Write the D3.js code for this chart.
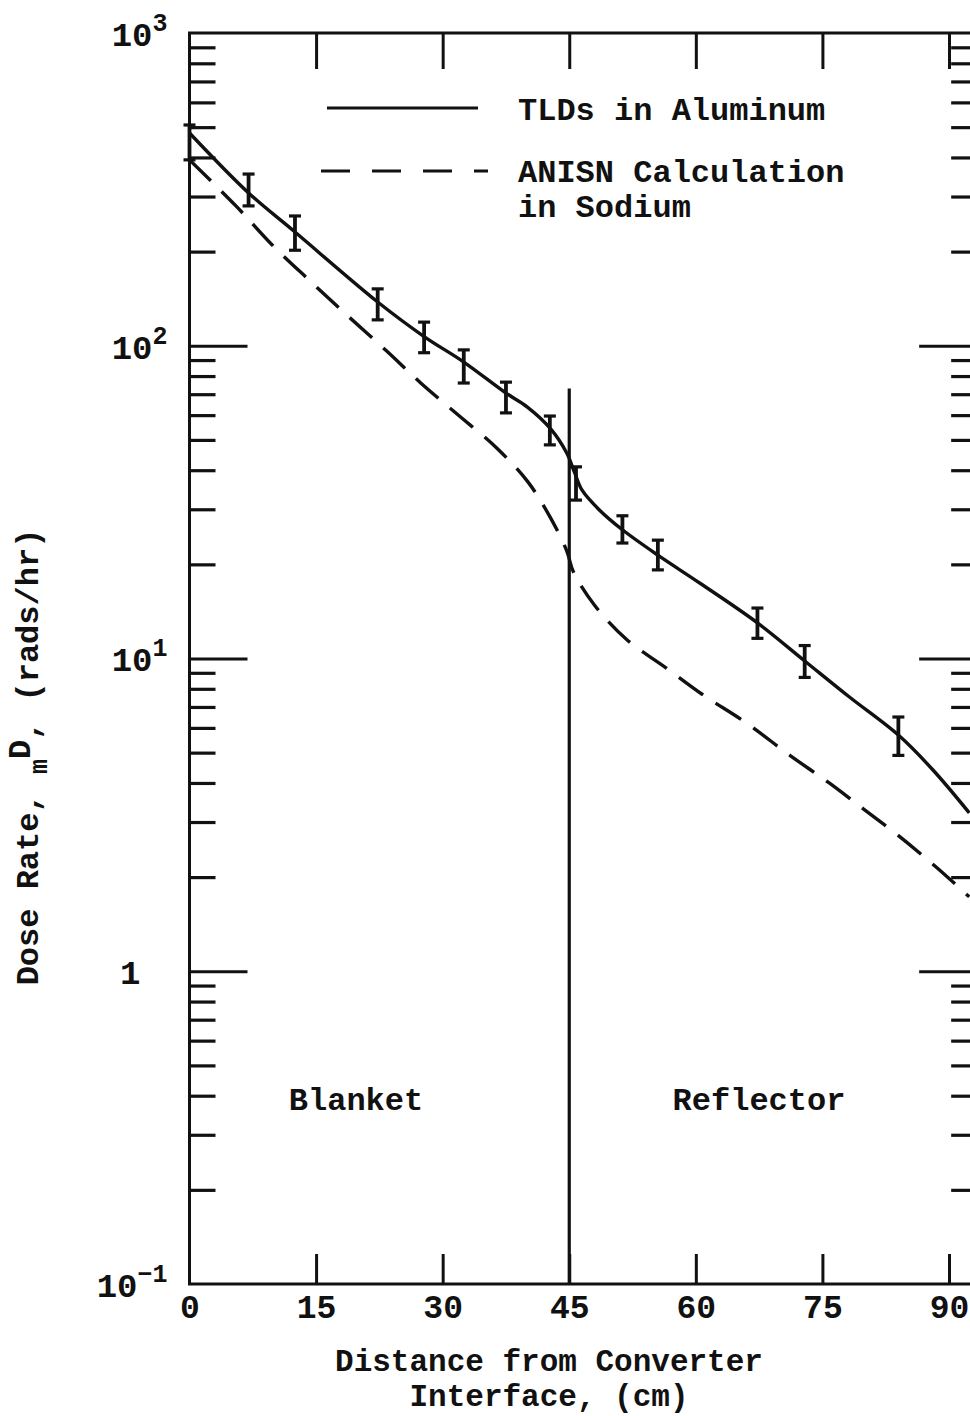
<!DOCTYPE html>
<html>
<head>
<meta charset="utf-8">
<script src="https://cdn.jsdelivr.net/npm/d3@7"></script>
<style>
  html, body { margin: 0; padding: 0; background: #fff; }
  svg { display: block; }
  text { font-family: "Liberation Mono", "DejaVu Sans Mono", monospace; font-weight: bold; fill: #111; }
</style>
</head>
<body>
<svg id="chart" width="970" height="1416"></svg>
<script>
// Measured TLD dose rate in aluminum (rads/hr) with error bar limits
const tldX    = [0.0, 7.0, 12.5, 22.3, 27.8, 32.5, 37.5, 42.7, 45.8, 51.3, 55.5, 67.3, 72.9, 84.0];
const tldVal  = [450, 315, 231, 138, 107, 87, 68.6, 53.8, 36.4, 25.8, 21.4, 13.0, 9.8, 5.7];
const tldLow  = [393, 280, 202, 121, 95, 76, 61, 48.2, 32.1, 23.4, 19.2, 11.6, 8.7, 4.9];
const tldHigh = [508, 354, 260, 152, 119, 97, 76.5, 59.6, 41, 28.6, 23.9, 14.5, 11.0, 6.5];

// Smooth curve drawn through the TLD measurements
const tldCurveX = [0, 7.0, 12.5, 22.3, 27.8, 32.5, 37.5, 40.0, 42.7, 44.7, 45.65, 46.5, 48.6, 51.3, 55.5, 60.5, 67.3, 72.9, 78.2, 84.0, 88.1, 92.4];
const tldCurveY = [479, 308, 231, 138, 107, 88.7, 70.6, 63.8, 54.6, 45.4, 39.2, 34.6, 29.8, 25.8, 21.4, 17.4, 13.0, 9.82, 7.53, 5.69, 4.40, 3.21];

// ANISN calculation in sodium
const anisnX = [0, 5.5, 9.8, 14.3, 18.7, 23.4, 27.4, 31.7, 36.4, 40.1, 42.8, 44.7, 45.5, 48.0, 51.8, 56.5, 60.7, 66.0, 71.1, 75.8, 80.0, 83.9, 88.5, 92.4];
const anisnY = [393, 280, 210, 161, 125, 96, 76, 60.5, 47.1, 36.7, 28.1, 22.1, 18.9, 14.8, 11.5, 9.32, 7.70, 6.22, 4.91, 4.00, 3.28, 2.73, 2.15, 1.73];

// Axis ticks
const xTicks = [0, 15, 30, 45, 60, 75, 90];
const yMajor = [0.1, 1, 10, 100, 1000];
const yMinor = [];
[0.1, 1, 10, 100].forEach(d => { for (let k = 2; k <= 9; k++) yMinor.push(d * k); });

// Blanket / reflector interface
const interfaceX = 45;
const interfaceTop = 73;
const xMax = 93.1;

const svg = d3.select("#chart");
const mLeft = 189.5, mRight = 949, mTop = 33, mBottom = 1284;

const x = d3.scaleLinear().domain([0, 90]).range([mLeft, mRight]);
const y = d3.scaleLog().domain([0.1, 1000]).range([mBottom, mTop]);
const xEdge = x(xMax);

const ink = "#111";
const fs = "32px";

// frame
svg.append("rect")
  .attr("x", mLeft).attr("y", mTop)
  .attr("width", xEdge - mLeft).attr("height", mBottom - mTop)
  .attr("fill", "none").attr("stroke", ink).attr("stroke-width", 3);

function styleAxis(g, w) {
  g.select(".domain").remove();
  g.selectAll(".tick line").attr("stroke", ink).attr("stroke-width", w);
}

// left axis: minor and major ticks pointing inward
svg.append("g").attr("transform", `translate(${mLeft},0)`)
  .call(d3.axisLeft(y).tickValues(yMinor).tickSize(-26).tickFormat(""))
  .call(g => styleAxis(g, 3.2));
svg.append("g").attr("transform", `translate(${mLeft},0)`)
  .call(d3.axisLeft(y).tickValues([1, 10, 100]).tickSize(-58).tickFormat(""))
  .call(g => styleAxis(g, 3.2));

// right axis
svg.append("g").attr("transform", `translate(${xEdge},0)`)
  .call(d3.axisRight(y).tickValues(yMinor).tickSize(-24).tickFormat(""))
  .call(g => styleAxis(g, 3.2));
svg.append("g").attr("transform", `translate(${xEdge},0)`)
  .call(d3.axisRight(y).tickValues([1, 10, 100]).tickSize(-56).tickFormat(""))
  .call(g => styleAxis(g, 3.2));

// y tick labels as powers of ten
const yLab = svg.append("g").attr("transform", `translate(${mLeft},0)`)
  .call(d3.axisLeft(y).tickValues(yMajor).tickSize(0).tickFormat(""));
yLab.select(".domain").remove();
yLab.selectAll(".tick text").each(function(d) {
  const t = d3.select(this)
    .attr("x", d === 1 ? -49 : -22)
    .attr("dy", "0.36em")
    .attr("text-anchor", "end")
    .style("font-size", "34px")
    .attr("fill", ink);
  const e = Math.round(Math.log10(d));
  if (e === 0) {
    t.append("tspan").text("1");
  } else {
    t.append("tspan").text("10");
    t.append("tspan").attr("dy", -15).style("font-size", "25px").text(String(e).replace("-", "\u2212"));
  }
});

// top axis ticks
svg.append("g").attr("transform", `translate(0,${mTop})`)
  .call(d3.axisTop(x).tickValues([15, 30, 45, 60, 75, 90]).tickSize(-36).tickFormat(""))
  .call(g => styleAxis(g, 3));

// bottom axis ticks and labels
const xAx = svg.append("g").attr("transform", `translate(0,${mBottom})`)
  .call(d3.axisBottom(x).tickValues(xTicks).tickSize(-30).tickPadding(11).tickFormat(d3.format("d")));
styleAxis(xAx, 3);
xAx.selectAll(".tick").filter(d => d === 0).select("line").remove();
xAx.selectAll(".tick text").style("font-size", "33px").attr("fill", ink).attr("font-family", null);

// interface line between blanket and reflector
svg.append("line")
  .attr("x1", x(interfaceX)).attr("x2", x(interfaceX))
  .attr("y1", y(interfaceTop)).attr("y2", mBottom)
  .attr("stroke", ink).attr("stroke-width", 3.2);

// curves
const line = d3.line()
  .x(d => x(d[0])).y(d => y(d[1]))
  .curve(d3.curveCatmullRom.alpha(0.5));

svg.append("path")
  .datum(d3.zip(anisnX, anisnY))
  .attr("d", line)
  .attr("fill", "none").attr("stroke", ink).attr("stroke-width", 3.4)
  .attr("stroke-dasharray", "30,15");

svg.append("path")
  .datum(d3.zip(tldCurveX, tldCurveY))
  .attr("d", line)
  .attr("fill", "none").attr("stroke", ink).attr("stroke-width", 3.4);

// error bars on the measurements
const bars = svg.append("g").selectAll("g")
  .data(tldX.map((v, i) => ({ x: v, lo: tldLow[i], hi: tldHigh[i] })))
  .join("g");
bars.append("line")
  .attr("x1", d => x(d.x)).attr("x2", d => x(d.x))
  .attr("y1", d => y(d.lo)).attr("y2", d => y(d.hi))
  .attr("stroke", ink).attr("stroke-width", 3.8);
bars.selectAll(".cap")
  .data(d => [{ x: d.x, v: d.lo }, { x: d.x, v: d.hi }])
  .join("line")
  .attr("class", "cap")
  .attr("x1", d => x(d.x) - 6).attr("x2", d => x(d.x) + 6)
  .attr("y1", d => y(d.v)).attr("y2", d => y(d.v))
  .attr("stroke", ink).attr("stroke-width", 3.2);

// legend
svg.append("line").attr("x1", 327).attr("x2", 478).attr("y1", 108).attr("y2", 108)
  .attr("stroke", ink).attr("stroke-width", 3);
svg.append("line").attr("x1", 321).attr("x2", 488).attr("y1", 171).attr("y2", 171)
  .attr("stroke", ink).attr("stroke-width", 3).attr("stroke-dasharray", "29,22");
svg.append("text").attr("x", 518).attr("y", 108).attr("dy", "0.36em")
  .style("font-size", fs).text("TLDs in Aluminum");
svg.append("text").attr("x", 518).attr("y", 170).attr("dy", "0.36em")
  .style("font-size", fs).text("ANISN Calculation");
svg.append("text").attr("x", 518).attr("y", 205).attr("dy", "0.36em")
  .style("font-size", fs).text("in Sodium");

// region labels
svg.append("text").attr("x", 356).attr("y", 1098).attr("dy", "0.36em")
  .attr("text-anchor", "middle").style("font-size", fs).text("Blanket");
svg.append("text").attr("x", 759).attr("y", 1098).attr("dy", "0.36em")
  .attr("text-anchor", "middle").style("font-size", fs).text("Reflector");

// x axis title on two lines
svg.append("text").attr("x", 549).attr("y", 1360).attr("dy", "0.36em")
  .attr("text-anchor", "middle").style("font-size", "31px").text("Distance from Converter");
svg.append("text").attr("x", 549).attr("y", 1395).attr("dy", "0.36em")
  .attr("text-anchor", "middle").style("font-size", "31px").text("Interface, (cm)");

// y axis title
const yt = svg.append("text")
  .attr("transform", "translate(26,757) rotate(-90)")
  .attr("text-anchor", "middle").attr("dy", "0.36em")
  .style("font-size", fs);
yt.append("tspan").text("Dose Rate, ");
yt.append("tspan").attr("dy", 9).style("font-size", "25px").text("m");
yt.append("tspan").attr("dy", -17).text("D");
yt.append("tspan").attr("dy", 8).text(", (rads/hr)");
</script>
</body>
</html>
